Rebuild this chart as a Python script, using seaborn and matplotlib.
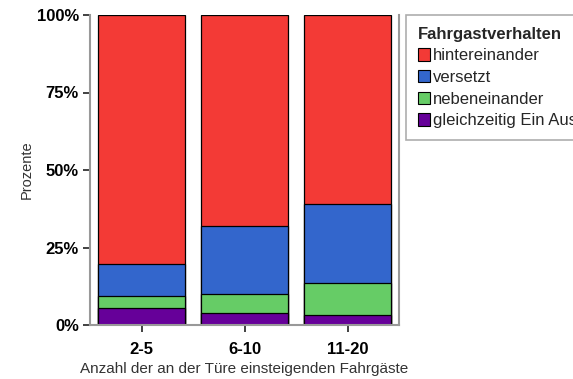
import numpy as np
import pandas as pd
import matplotlib
matplotlib.use("Agg")
import matplotlib.pyplot as plt
import seaborn as sns
from matplotlib.patches import Patch

# values (percent per group, bottom to top)
groups = ["2-5", "6-10", "11-20"]
gleichzeitig = [5.4, 4.0, 3.2]
nebeneinander = [4.1, 6.1, 10.5]
versetzt = [10.1, 21.9, 25.3]
hintereinander = [80.4, 68.0, 61.0]

legend_labels = ["hintereinander", "versetzt", "nebeneinander", "gleichzeitig Ein Aus"]
colors = ["#f33a36", "#3366cc", "#66cc66", "#660099"]

sns.set_theme(style="white")
plt.rcParams["font.family"] = ["Liberation Sans", "DejaVu Sans"]

df = pd.DataFrame({
    "gruppe": groups,
    "gleichzeitig": gleichzeitig,
    "nebeneinander": nebeneinander,
    "versetzt": versetzt,
    "hintereinander": hintereinander,
})

# cumulative heights, bottom layer first
stack_cols = ["gleichzeitig", "nebeneinander", "versetzt", "hintereinander"]
cum = df[stack_cols].cumsum(axis=1)
cum["gruppe"] = df["gruppe"]

fig = plt.figure(figsize=(5.73, 3.79), dpi=100)
ax = fig.add_axes([90 / 573, 54 / 379, 309 / 573, 310 / 379])

# draw from the top layer down so lower layers cover the taller bars
for col, color in zip(stack_cols[::-1], colors):
    sns.barplot(data=cum, x="gruppe", y=col, color=color, saturation=1,
                width=0.85, edgecolor="black", linewidth=0.9, ax=ax)

ax.set_xlim(-0.5, 2.5)
ax.set_ylim(0, 100)
ax.set_yticks([0, 25, 50, 75, 100])
ax.set_yticklabels([f"{v}%" for v in [0, 25, 50, 75, 100]])
ax.tick_params(axis="both", direction="out", length=5, width=1.3,
               color="#333333", labelsize=12, labelcolor="black",
               left=True, bottom=True)
ax.tick_params(axis="x", pad=7)
ax.tick_params(axis="y", pad=3)
for lbl in ax.get_xticklabels() + ax.get_yticklabels():
    lbl.set_fontweight("bold")

ax.set_xlabel("Anzahl der an der Türe einsteigenden Fahrgäste", fontsize=11,
              color="#333333", labelpad=4)
ax.set_ylabel("Prozente", fontsize=10.5, color="#333333", labelpad=2)

for side in ["left", "bottom", "right"]:
    ax.spines[side].set_color("#999999")
    ax.spines[side].set_linewidth(1.5)
ax.spines["top"].set_visible(False)

handles = [Patch(facecolor=c, edgecolor="black", linewidth=0.8) for c in colors]
leg = fig.legend(handles, legend_labels, title="Fahrgastverhalten",
                 loc="upper left", bbox_to_anchor=(406 / 573, 1 - 15 / 379),
                 borderaxespad=0, frameon=True, fancybox=False,
                 edgecolor="#999999", fontsize=12,
                 title_fontproperties={"weight": "bold", "size": 12},
                 alignment="left", handlelength=0.75, handleheight=0.75,
                 handletextpad=0.15, labelspacing=0.4, borderpad=0.7)
leg.get_frame().set_linewidth(1.2)

fig.savefig("out.png", dpi=100)
